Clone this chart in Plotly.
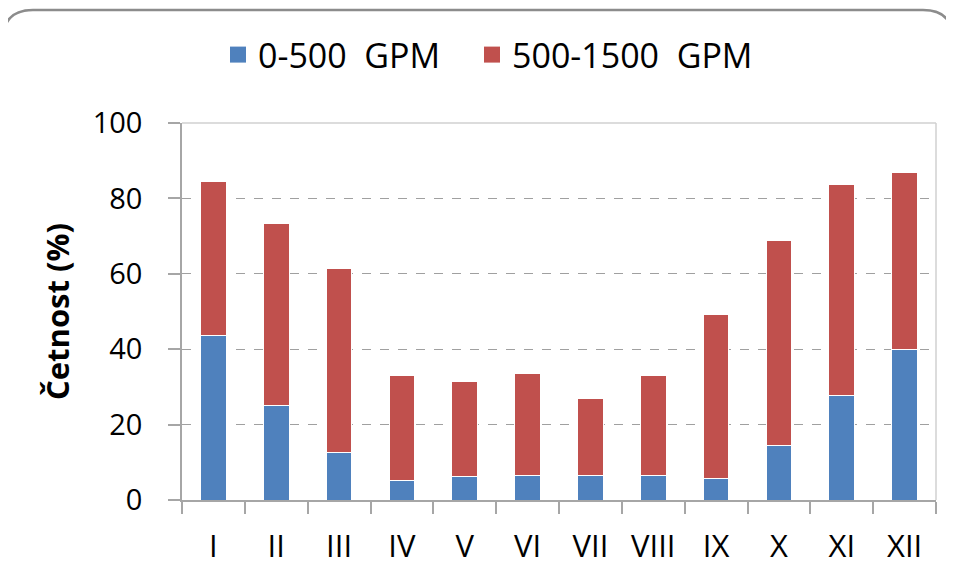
import plotly.graph_objects as go

months = ["I", "II", "III", "IV", "V", "VI", "VII", "VIII", "IX", "X", "XI", "XII"]
low_gpm = [43.6, 25.0, 12.7, 5.3, 6.3, 6.6, 6.6, 6.6, 5.6, 14.5, 27.7, 39.9]
high_gpm = [40.8, 48.3, 48.7, 27.8, 25.2, 26.9, 20.3, 26.5, 43.6, 54.4, 56.1, 46.9]
series_names = ["0-500  GPM", "500-1500  GPM"]
colors = ["#4F81BD", "#C0504D"]
y_ticks = [0, 20, 40, 60, 80, 100]

W, H = 954, 580
OX, OY = 8, 8  # page offset of the plot div
# target plot area in screenshot pixels: x 182..936, y 123..500
L = 182 - OX
T = 123 - OY
R = W - (936 - OX)
B = H - (500 - OY)
pw, ph = W - L - R, H - T - B

def px(x):
    return (x - OX - L) / pw

def py(y):
    return (H - B - (y - OY)) / ph

FONT = "Open Sans"

fig = go.Figure()
for vals, name, col in zip([low_gpm, high_gpm], series_names, colors):
    fig.add_trace(go.Bar(x=months, y=vals, name=name, showlegend=False,
                         marker=dict(color=col, line=dict(color="#ffffff", width=1))))
# legend entries with large square swatches, each in its own legend box
for i, (name, col) in enumerate(zip(series_names, colors)):
    fig.add_trace(go.Scatter(x=[None], y=[None], mode="markers", name=name,
                             legend="legend" if i == 0 else "legend2",
                             marker=dict(symbol="square", size=16, color=col)))

# outer rounded chart border
x0, x1, yt, yb = px(3), px(953), py(10), py(600)
rx, ry = 30 / pw, 30 / ph
path = (f"M {x0},{yb} L {x0},{yt - ry} Q {x0},{yt} {x0 + rx},{yt} "
        f"L {x1 - rx},{yt} Q {x1},{yt} {x1},{yt - ry} L {x1},{yb}")

legend_common = dict(orientation="h", xanchor="left", yanchor="middle",
                     font=dict(size=34, family=FONT), itemwidth=30,
                     bgcolor="rgba(0,0,0,0)", borderwidth=0)

fig.update_layout(
    width=W, height=H,
    margin=dict(l=L, r=R, t=T, b=B),
    barmode="stack",
    bargap=0.59,
    paper_bgcolor="white",
    plot_bgcolor="white",
    font=dict(family=FONT, color="#000000", size=28),
    showlegend=True,
    legend=dict(x=px(218), y=py(55), **legend_common),
    legend2=dict(x=px(472), y=py(55), **legend_common),
    xaxis=dict(
        type="category",
        showline=True, linecolor="#a6a6a6", linewidth=1.5,
        ticks="outside", ticklen=12, tickcolor="#a6a6a6", tickwidth=1.5,
        tickson="boundaries",
        tickfont=dict(size=31, family=FONT),
        ticklabelstandoff=18,
        showgrid=False,
    ),
    yaxis=dict(
        range=[0, 100],
        tickvals=y_ticks,
        showline=True, linecolor="#a6a6a6", linewidth=1.5,
        ticks="outside", ticklen=12, tickcolor="#a6a6a6", tickwidth=1.5,
        tickfont=dict(size=29, family=FONT),
        ticklabelstandoff=20,
        showgrid=True, gridcolor="#a0a0a0", griddash="dash", gridwidth=1,
        zeroline=False,
        title=dict(text="<b>Četnost (%)</b>", font=dict(size=31, family=FONT), standoff=14),
    ),
    shapes=[
        dict(type="line", xref="paper", yref="paper", x0=0, x1=1, y0=1, y1=1,
             line=dict(color="#d0d0d0", width=1.5)),
        dict(type="line", xref="paper", yref="paper", x0=1, x1=1, y0=0, y1=1,
             line=dict(color="#d0d0d0", width=1.5)),
        dict(type="path", xref="paper", yref="paper", path=path,
             line=dict(color="#8c8c8c", width=2.5)),
    ],
)

fig.write_html("out.html")
